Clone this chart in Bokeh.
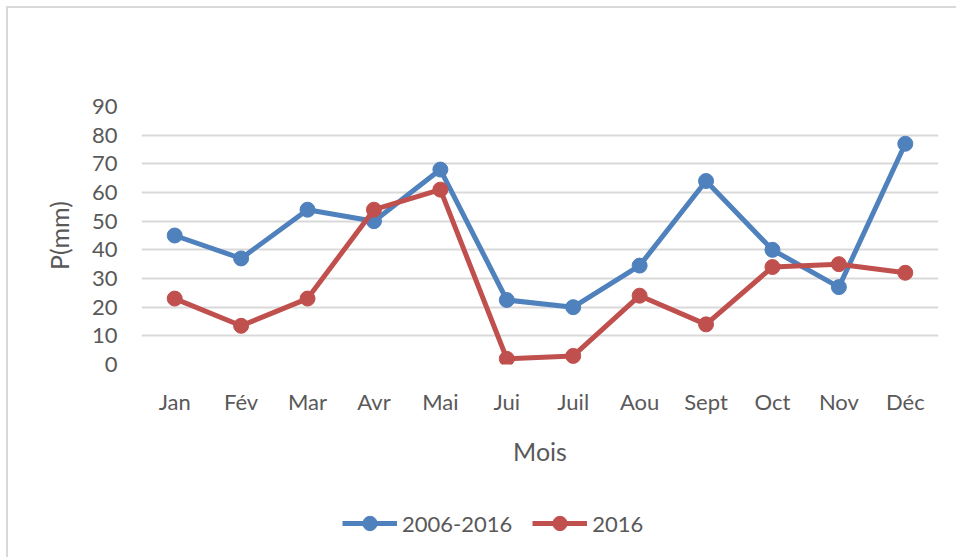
from bokeh.plotting import figure
from bokeh.layouts import column
from bokeh.models import Legend, LegendItem, FixedTicker, Range1d
from bokeh.embed import file_html
from bokeh.resources import INLINE

months = ["Jan", "Fév", "Mar", "Avr", "Mai", "Jui", "Juil", "Aou", "Sept", "Oct", "Nov", "Déc"]
p_2006_2016 = [45, 37, 54, 50, 68, 22.5, 20, 34.5, 64, 40, 27, 77]
p_2016 = [23, 13.5, 23, 54, 61, 2, 3, 24, 14, 34, 35, 32]
y_ticks = [0, 10, 20, 30, 40, 50, 60, 70, 80, 90]

BLUE = "#4F81BD"
RED = "#C0504D"
TXT = "#595959"
FONT = "Lato"

p = figure(x_range=months, y_range=Range1d(0, 90), width=956, height=475,
           output_backend="svg", toolbar_location=None,
           min_border_left=141, min_border_right=18, min_border_top=106, min_border_bottom=111)
p.outline_line_color = None
p.background_fill_color = "white"
p.border_fill_alpha = 0

p.line(months, p_2006_2016, line_color=BLUE, line_width=5)
p.scatter(months, p_2006_2016, size=15, fill_color=BLUE, line_color=BLUE)
p.line(months, p_2016, line_color=RED, line_width=5)
p.scatter(months, p_2016, size=15, fill_color=RED, line_color=RED)

p.xgrid.grid_line_color = None
p.ygrid.grid_line_color = "#D9D9D9"
p.ygrid.grid_line_width = 2
p.yaxis.ticker = FixedTicker(ticks=y_ticks)

for ax in (p.xaxis, p.yaxis):
    ax.axis_line_color = None
    ax.major_tick_line_color = None
    ax.minor_tick_line_color = None
    ax.major_label_text_font = FONT
    ax.major_label_text_font_size = "22px"
    ax.major_label_text_color = TXT
    ax.axis_label_text_font = FONT
    ax.axis_label_text_font_size = "25px"
    ax.axis_label_text_color = TXT
    ax.axis_label_text_font_style = "normal"

p.xaxis.axis_label = "Mois"
p.yaxis.axis_label = "P(mm)"
p.xaxis.major_label_standoff = 17
p.yaxis.major_label_standoff = 18
p.xaxis.axis_label_standoff = 18
p.yaxis.axis_label_standoff = 15

# legend strip below the chart (same series, drawn outside its visible range)
p2 = figure(x_range=months, y_range=Range1d(1000, 1001), width=956, height=82,
            output_backend="svg", toolbar_location=None,
            x_axis_location=None, y_axis_location=None,
            min_border=0, min_border_left=0, min_border_right=0,
            min_border_top=0, min_border_bottom=0)
p2.outline_line_color = None
p2.background_fill_alpha = 0
p2.border_fill_alpha = 0
p2.grid.visible = False

l1 = p2.line(months, p_2006_2016, line_color=BLUE, line_width=5)
c1 = p2.scatter(months, p_2006_2016, size=15, fill_color=BLUE, line_color=BLUE)
l2 = p2.line(months, p_2016, line_color=RED, line_width=5)
c2 = p2.scatter(months, p_2016, size=15, fill_color=RED, line_color=RED)

legend = Legend(items=[LegendItem(label="2006-2016", renderers=[l1, c1]),
                       LegendItem(label="2016", renderers=[l2, c2])],
                orientation="horizontal", location=(201, 16),
                glyph_width=55, glyph_height=36, label_text_font=FONT,
                label_text_font_size="22px", label_text_color=TXT,
                spacing=20, label_standoff=5, padding=5,
                border_line_color=None, background_fill_alpha=0)
p2.add_layout(legend, "center")

layout = column(p, p2, spacing=0)
layout.styles = {"background-color": "white",
                 "box-shadow": "inset 6px 6px 0 0 white, inset 8px 8px 0 0 #D9D9D9"}

open("out.html", "w").write(file_html(layout, INLINE))
